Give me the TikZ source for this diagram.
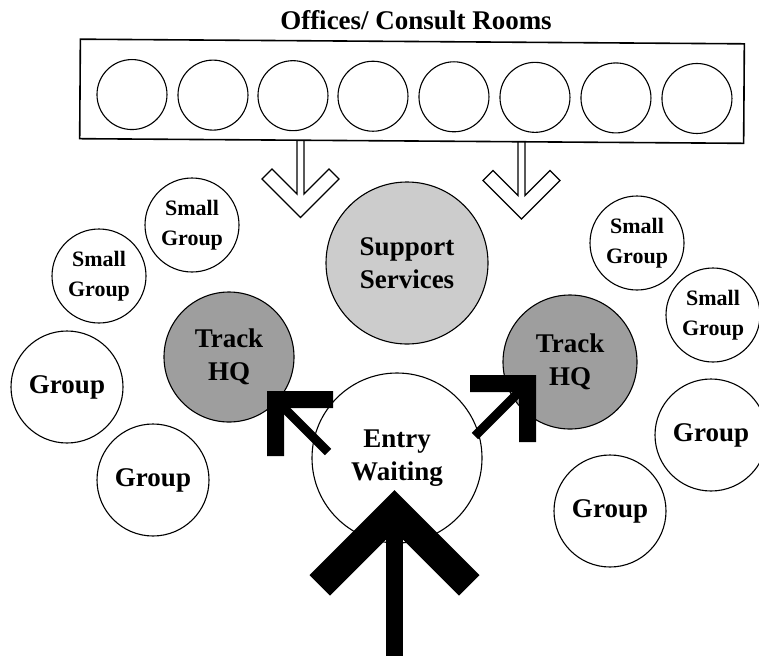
\documentclass[tikz,border=0pt]{standalone}
\usepackage{fontspec}
\setmainfont{Liberation Serif}
\definecolor{supportfill}{gray}{0.80}
\definecolor{trackfill}{gray}{0.62}
\begin{document}
\begin{tikzpicture}[x=1pt,y=-1pt,
  bigtext/.style={font=\bfseries\fontsize{27}{33}\selectfont},
  smalltext/.style={font=\bfseries\fontsize{22}{30}\selectfont},
  room/.style={circle,draw,line width=1.1pt,minimum size=70pt,inner sep=0pt},
  area/.style={circle,draw,line width=1.1pt,inner sep=0pt,align=center,bigtext},
  smallarea/.style={circle,draw,line width=1.1pt,inner sep=0pt,align=center,smalltext,minimum size=94pt},
  grouparea/.style={circle,draw,line width=1.1pt,inner sep=0pt,align=center,bigtext,minimum size=112pt},
  hollowarrow/.pic={
    \draw[line width=1.3pt,fill=white,line join=miter]
      (-3.5,0) -- (-3.5,54) -- (-28.5,29) -- (-38.5,39) -- (0,77.5)
      -- (38.5,39) -- (28.5,29) -- (3.5,54) -- (3.5,0);
  }
]
\useasboundingbox (0,0) rectangle (759,656);

% open arrows from the offices down into the floor
\coordinate (openL) at (300.5,140);
\coordinate (openR) at (521.5,141.5);
\pic at (openL) {hollowarrow};
\pic at (openR) {hollowarrow};

% title and the row of offices (the strip sits at a slight tilt)
\node[bigtext,anchor=base] (title) at (416,29) {Offices/ Consult Rooms};
\begin{scope}[rotate around={-0.4:(412,92)}]
  \draw[line width=1.6pt,fill=white] (80,41.5) rectangle (744,141);
  \foreach \i/\x in {1/132,2/213,3/293,4/373,5/454,6/535,7/616,8/697}
    \node[room] (office\i) at (\x,96.5) {};
\end{scope}

% central areas
\node[area,minimum size=162pt,fill=supportfill] (support) at (407,263) {Support\\Services};
\node[area,minimum size=130pt,fill=trackfill] (trackL) at (229,357) {Track\\HQ};
\node[area,minimum size=134pt,fill=trackfill] (trackR) at (570,362) {Track\\HQ};
\node[area,minimum size=170pt] (entry) at (397,458) {Entry\\Waiting};

% group rooms
\node[smallarea] (sgL1) at (192,225) {Small\\Group};
\node[smallarea] (sgL2) at (99,276) {Small\\Group};
\node[smallarea] (sgR1) at (637,243) {Small\\Group};
\node[smallarea] (sgR2) at (713,315) {Small\\Group};
\node[grouparea] (gL1) at (67,387) {Group};
\node[grouparea] (gL2) at (153,480) {Group};
\node[grouparea] (gR1) at (711,435) {Group};
\node[grouparea] (gR2) at (610,511) {Group};

% solid arrows from the entry to each track headquarters
\coordinate (tipL) at (267,391);
\coordinate (tailL) at (328,452);
\fill (tipL) -- ++(66,0) -- ++(0,17) -- ++(-49,0) -- ++(0,48) -- ++(-17,0) -- cycle;
\draw[line width=9pt] (281,405) -- (tailL);

\coordinate (tipR) at (536,375);
\coordinate (tailR) at (475,436);
\fill (tipR) -- ++(-66,0) -- ++(0,17) -- ++(49,0) -- ++(0,50) -- ++(17,0) -- cycle;
\draw[line width=9pt] (522,389) -- (tailR);

% main arrow into the entry
\coordinate (tipE) at (394.5,490);
\fill (tipE) -- ++(-85,85) -- ++(20.5,20.5) -- (394.5,531) -- (459,595.5) -- (479.5,575) -- cycle;
\fill (386,525) rectangle (403,656);
\end{tikzpicture}
\end{document}
